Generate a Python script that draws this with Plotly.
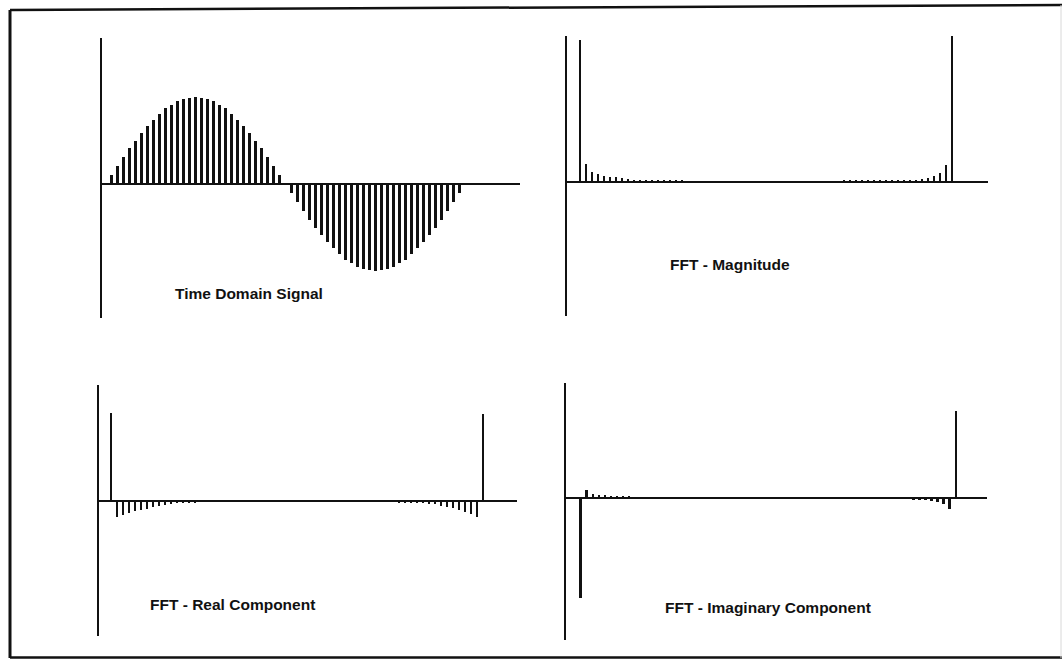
import plotly.graph_objects as go

W, H = 1063, 660

# ---- data -------------------------------------------------------------
# one period of a sampled sine (60 samples)
time_index = list(range(60))
signal = [0.00, 0.10, 0.21, 0.31, 0.41, 0.50, 0.59, 0.67, 0.74, 0.81,
          0.87, 0.91, 0.95, 0.98, 0.99, 1.00, 0.99, 0.98, 0.95, 0.91,
          0.87, 0.81, 0.74, 0.67, 0.59, 0.50, 0.41, 0.31, 0.21, 0.10,
          0.00, -0.10, -0.21, -0.31, -0.41, -0.50, -0.59, -0.67, -0.74, -0.81,
          -0.87, -0.91, -0.95, -0.98, -0.99, -1.00, -0.99, -0.98, -0.95, -0.91,
          -0.87, -0.81, -0.74, -0.67, -0.59, -0.50, -0.41, -0.31, -0.21, -0.10]

# 64-point FFT bins
fft_bins = list(range(64))
fft_magnitude = [0.0, 30.2, 3.8, 2.2, 1.6, 1.3, 1.1, 1.0, 0.85, 0.65,
                 0.5, 0.45, 0.4, 0.35, 0.3, 0.3, 0.25, 0.25, 0.25, 0.2,
                 0.2, 0.2, 0.2, 0.2, 0.2, 0.2, 0.2, 0.2, 0.2, 0.2,
                 0.2, 0.2, 0.2, 0.2, 0.2, 0.2, 0.2, 0.2, 0.2, 0.2,
                 0.2, 0.2, 0.2, 0.2, 0.2, 0.25, 0.25, 0.25, 0.3, 0.3,
                 0.35, 0.4, 0.45, 0.45, 0.5, 0.45, 0.45, 0.5, 0.7, 0.9,
                 1.3, 1.9, 3.6, 33.0]
fft_real = [0.0, 18.7, -3.4, -2.9, -2.55, -2.2, -2.0, -1.65, -1.3, -1.05,
            -0.8, -0.55, -0.45, -0.35, -0.3, -0.25, -0.2, -0.15, -0.1, -0.1,
            -0.05, 0.0, 0.0, 0.0, 0.0, 0.0, 0.0, 0.0, 0.0, 0.0,
            0.0, 0.0, 0.0, 0.0, 0.0, 0.0, 0.0, 0.0, 0.0, 0.0,
            0.0, 0.0, 0.0, 0.0, -0.05, -0.1, -0.1, -0.15, -0.2, -0.25,
            -0.3, -0.35, -0.4, -0.45, -0.55, -0.7, -1.0, -1.2, -1.55, -2.0,
            -2.4, -2.8, -3.3, 18.5]
fft_imag = [0.0, -21.3, 1.75, 0.9, 0.7, 0.55, 0.45, 0.35, 0.3, 0.25,
            0.2, 0.15, 0.1, 0.1, 0.05, 0.0, 0.0, 0.0, 0.0, 0.0,
            0.0, 0.0, 0.0, 0.0, 0.0, 0.0, 0.0, 0.0, 0.0, 0.0,
            0.0, 0.0, 0.0, 0.0, 0.0, 0.0, 0.0, 0.0, 0.0, 0.0,
            0.0, 0.0, 0.0, 0.0, 0.0, 0.0, 0.0, 0.0, 0.0, 0.0,
            0.0, -0.05, -0.1, -0.1, -0.15, -0.2, -0.25, -0.35, -0.5, -0.7,
            -0.85, -1.35, -2.3, 18.5]

titles = ["Time Domain Signal", "FFT - Magnitude",
          "FFT - Real Component", "FFT - Imaginary Component"]

# ---- layout helpers (pixel geometry -> paper fractions) ---------------
def px_x(p):
    return p / W

def px_y(p):
    return 1 - p / H

# panel: (left, right, top, bottom, zero-line y, x of sample 0, sample step, px per unit)
panels = [
    dict(l=102, r=520, t=38, b=318, zero=184, x0=105.5, dx=6.0, k=87.0),
    dict(l=567, r=988, t=36, b=316, zero=182, x0=574.0, dx=6.0, k=4.7),
    dict(l=99, r=517, t=385, b=636, zero=501, x0=105.0, dx=6.0, k=4.7),
    dict(l=566, r=987, t=383, b=640, zero=498, x0=574.7, dx=6.05, k=4.7),
]
series = [(time_index, signal), (fft_bins, fft_magnitude),
          (fft_bins, fft_real), (fft_bins, fft_imag)]

fig = go.Figure()
layout = {}
for i, (p, (xs, ys)) in enumerate(zip(panels, series), start=1):
    sfx = "" if i == 1 else str(i)
    xr = [(p["l"] - p["x0"]) / p["dx"], (p["r"] - p["x0"]) / p["dx"]]
    yr = [-(p["b"] - p["zero"]) / p["k"], (p["zero"] - p["t"]) / p["k"]]
    layout["xaxis" + sfx] = dict(
        domain=[px_x(p["l"]), px_x(p["r"])], range=xr, visible=False,
        anchor="y" + sfx, fixedrange=True)
    layout["yaxis" + sfx] = dict(
        domain=[px_y(p["b"]), px_y(p["t"])], range=yr, anchor="x" + sfx,
        showline=True, linecolor="#111", linewidth=1.6, mirror=False,
        showgrid=False, showticklabels=False, ticks="",
        zeroline=True, zerolinecolor="#111", zerolinewidth=1.6,
        fixedrange=True)
    fig.add_trace(go.Bar(
        x=xs, y=ys, width=0.44, marker=dict(color="#111", line=dict(width=0)),
        xaxis="x" + sfx, yaxis="y" + sfx, showlegend=False, hoverinfo="skip"))

title_pos = [(249, 293), (730, 264), (232, 604), (768, 607)]
annotations = [
    dict(text="<b>%s</b>" % t, x=px_x(cx), y=px_y(cy), xref="paper", yref="paper",
         showarrow=False, xanchor="center", yanchor="middle",
         font=dict(family="Liberation Sans, Arial, Helvetica, sans-serif",
                   size=15.5, color="#111"))
    for t, (cx, cy) in zip(titles, title_pos)
]

# outer frame
frame = [
    dict(type="line", xref="paper", yref="paper", x0=px_x(10), x1=px_x(10),
         y0=px_y(10), y1=px_y(658), line=dict(color="#111", width=3)),
    dict(type="line", xref="paper", yref="paper", x0=px_x(10), x1=px_x(1062),
         y0=px_y(10), y1=px_y(5), line=dict(color="#111", width=2.5)),
    dict(type="line", xref="paper", yref="paper", x0=px_x(10), x1=px_x(1062),
         y0=px_y(657.5), y1=px_y(657.5), line=dict(color="#111", width=2.5)),
    dict(type="line", xref="paper", yref="paper", x0=px_x(1061), x1=px_x(1061),
         y0=px_y(5), y1=px_y(658), line=dict(color="#d8d8d8", width=1)),
]

fig.update_layout(
    width=W, height=H, margin=dict(l=0, r=0, t=0, b=0),
    paper_bgcolor="white", plot_bgcolor="rgba(0,0,0,0)",
    annotations=annotations, shapes=frame, bargap=0, **layout)

fig.write_html("out.html", config={"displayModeBar": False})
